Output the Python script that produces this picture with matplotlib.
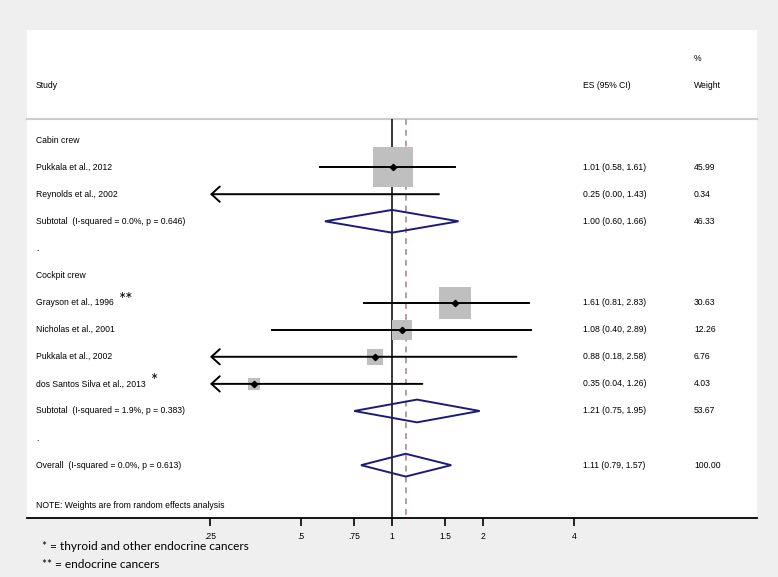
import numpy as np
import matplotlib
matplotlib.use("Agg")
import matplotlib.pyplot as plt
from matplotlib.patches import Polygon, Rectangle

plt.rcParams["font.family"] = ["Liberation Sans", "DejaVu Sans"]

# study level data
studies = ["Pukkala et al., 2012", "Reynolds et al., 2002",
           "Grayson et al., 1996", "Nicholas et al., 2001",
           "Pukkala et al., 2002", "dos Santos Silva et al., 2013"]
es = [1.01, 0.25, 1.61, 1.08, 0.88, 0.35]
lo = [0.58, 0.00, 0.81, 0.40, 0.18, 0.04]
hi = [1.61, 1.43, 2.83, 2.89, 2.58, 1.26]
weight = [45.99, 0.34, 30.63, 12.26, 6.76, 4.03]
study_rows = [1, 2, 6, 7, 8, 9]
stars = ["", "", "**", "", "", "*"]

# pooled estimates
pooled_labels = ["Subtotal  (I-squared = 0.0%, p = 0.646)",
                 "Subtotal  (I-squared = 1.9%, p = 0.383)",
                 "Overall  (I-squared = 0.0%, p = 0.613)"]
pooled_es = [1.00, 1.21, 1.11]
pooled_lo = [0.60, 0.75, 0.79]
pooled_hi = [1.66, 1.95, 1.57]
pooled_w = [46.33, 53.67, 100.00]
pooled_rows = [3, 10, 12]

groups = ["Cabin crew", "Cockpit crew"]
group_rows = [0, 5]
dot_rows = [4, 11]

ticks = [0.25, 0.5, 0.75, 1, 1.5, 2, 4]
tick_labels = [".25", ".5", ".75", "1", "1.5", "2", "4"]
xmin_ci = 0.25

W, H = 778, 577
fig = plt.figure(figsize=(W / 100, H / 100), dpi=100, facecolor="#efefef")

# white panel
fig.patches.append(Rectangle((27 / W, 1 - 518 / H), 730 / W, 488 / H,
                             transform=fig.transFigure, facecolor="white",
                             edgecolor="none", zorder=-5))

ax = fig.add_axes([27 / W, 1 - 518 / H, 730 / W, 488 / H])
ax.set_facecolor("none")
ax.set_xscale("log", base=2)
ax.set_xlim(2 ** -4.011, 2 ** 4.011)
ax.set_ylim(13.95, -4.06)
for s in ["top", "left", "right"]:
    ax.spines[s].set_visible(False)
ax.spines["bottom"].set_linewidth(1.3)
ax.set_yticks([])
ax.set_xticks(ticks)
ax.set_xticklabels(tick_labels)
ax.minorticks_off()
ax.tick_params(axis="x", direction="out", length=6, width=1.2, pad=4,
               labelsize=6.2)

fs = 6.2
tr = ax.get_yaxis_transform()
c_study, c_es, c_w = (36 - 27) / 730, (583 - 27) / 730, (694 - 27) / 730

# header
ax.text(c_study, -2.0, "Study", transform=tr, fontsize=fs, va="center")
ax.text(c_es, -2.0, "ES (95% CI)", transform=tr, fontsize=fs, va="center")
ax.text(c_w, -2.0, "Weight", transform=tr, fontsize=fs, va="center")
ax.text(c_w, -3.0, "%", transform=tr, fontsize=fs, va="center")
ax.plot([0, 1], [-0.77, -0.77], transform=tr, color="#cccccc", lw=1.5,
        clip_on=False)

# reference lines
ax.vlines(1, -0.77, 13.95, color="black", lw=1.1, zorder=2)
ax.vlines(pooled_es[2], -0.77, 13.95, color="#b08890", lw=1.2,
          linestyles=(0, (3.5, 3)), zorder=2)

for g, r in zip(groups, group_rows):
    ax.text(c_study, r, g, transform=tr, fontsize=fs, va="center")
for r in dot_rows:
    ax.text(c_study, r, ".", transform=tr, fontsize=fs, va="center")

# individual studies
for name, e, l, h, w, r, st in zip(studies, es, lo, hi, weight, study_rows, stars):
    t = ax.text(c_study, r, name, transform=tr, fontsize=fs, va="center")
    if st:
        ax.annotate(st, xy=(1, 0.5), xycoords=t, xytext=(3.5, 1.8),
                    textcoords="offset points", fontsize=12.5, family="Lato",
                    va="center")
    ax.text(c_es, r, "%.2f (%.2f, %.2f)" % (e, l, h), transform=tr,
            fontsize=fs, va="center")
    ax.text(c_w, r, "%.2f" % w, transform=tr, fontsize=fs, va="center")
    if l < xmin_ci:
        ax.annotate("", xy=(xmin_ci, r), xytext=(h, r),
                    arrowprops=dict(arrowstyle="->,head_length=0.6,head_width=0.55",
                                    lw=1.4, color="black", shrinkA=0, shrinkB=0,
                                    mutation_scale=10), zorder=4)
    else:
        ax.plot([l, h], [r, r], color="black", lw=1.4, zorder=4)
    # estimates on the edge of the shown range get no box or point
    if e > xmin_ci:
        ax.scatter(e, r, marker="s", s=18.0 * w, color="#bfbfbf", lw=0, zorder=3)
        ax.plot(e, r, marker="D", ms=3.2, color="black", zorder=5)

# pooled diamonds
for lab, e, l, h, w, r in zip(pooled_labels, pooled_es, pooled_lo, pooled_hi,
                              pooled_w, pooled_rows):
    ax.text(c_study, r, lab, transform=tr, fontsize=fs, va="center")
    ax.text(c_es, r, "%.2f (%.2f, %.2f)" % (e, l, h), transform=tr,
            fontsize=fs, va="center")
    ax.text(c_w, r, "%.2f" % w, transform=tr, fontsize=fs, va="center")
    hh = 0.42
    ax.add_patch(Polygon([(l, r), (e, r - hh), (h, r), (e, r + hh)],
                         closed=True, facecolor="none", edgecolor="#1c1c78",
                         lw=1.4, zorder=4))

ax.text(c_study, 13.5, "NOTE: Weights are from random effects analysis",
        transform=tr, fontsize=fs, va="center")

# footnotes
fig.text(42 / W, 1 - 547 / H, "* = thyroid and other endocrine cancers",
         fontsize=8.6, family="Lato", va="center")
fig.text(42 / W, 1 - 564 / H, "** = endocrine cancers",
         fontsize=8.6, family="Lato", va="center")

fig.savefig("out.png", dpi=100, facecolor=fig.get_facecolor())
